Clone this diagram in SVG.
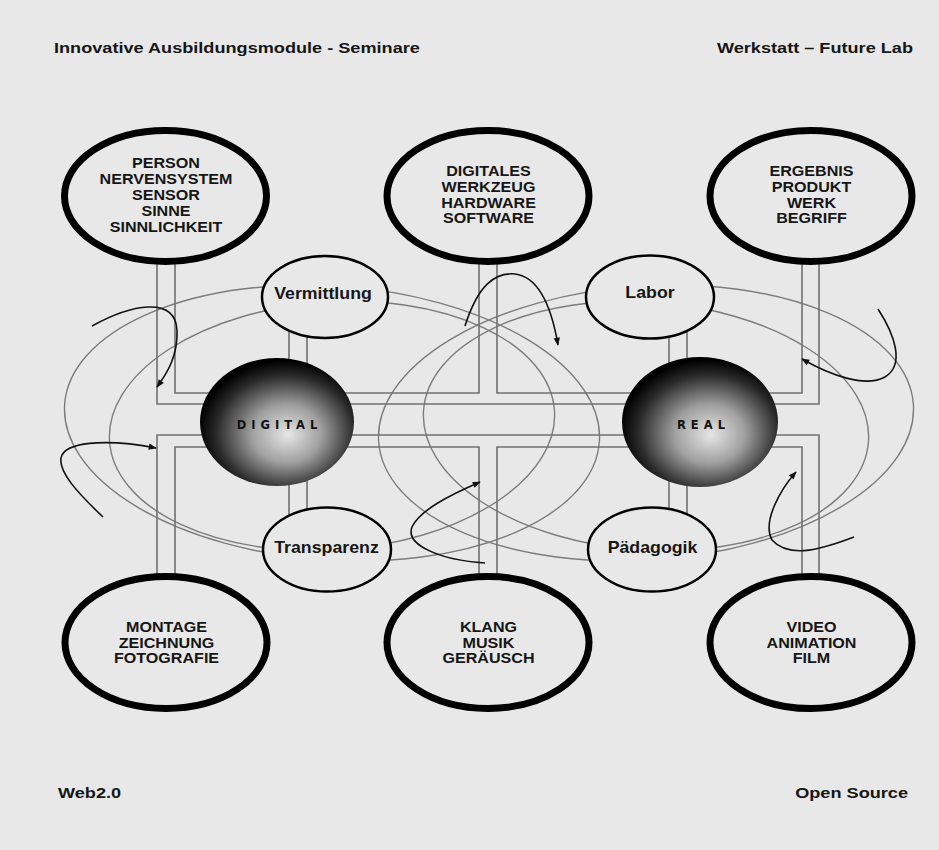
<svg xmlns="http://www.w3.org/2000/svg" width="939" height="850" viewBox="0 0 939 850">
<defs>
<style>
.bg{fill:#e8e8e8}
.big{fill:#e8e8e8;stroke:#000;stroke-width:7}
.small{fill:#e8e8e8;stroke:#000;stroke-width:2.5}
.pipe{fill:none;stroke:#707070;stroke-width:1.6}
.orbit{fill:none;stroke:#7c7c7c;stroke-width:1.4}
.arrow{fill:none;stroke:#111;stroke-width:1.6;marker-end:url(#ah)}
.t{font-family:"Liberation Sans",Arial,sans-serif;font-weight:bold;fill:#161616}
.bt{font-size:14px;text-anchor:middle}
.hd{font-size:15px}
.st{font-size:16px;text-anchor:middle}
.sp{font-family:"DejaVu Sans","Liberation Sans",sans-serif;font-weight:bold;font-size:11.5px;letter-spacing:5px;text-anchor:middle;fill:#111}
</style>
<radialGradient id="sph" cx="0.55" cy="0.58" r="0.56" fx="0.57" fy="0.6">
<stop offset="0" stop-color="#e6e6e6"/>
<stop offset="0.4" stop-color="#a0a0a0"/>
<stop offset="0.8" stop-color="#2a2a2a"/>
<stop offset="1" stop-color="#000"/>
</radialGradient>
<marker id="ah" viewBox="0 0 10 10" refX="9" refY="5" markerWidth="9" markerHeight="8" markerUnits="userSpaceOnUse" orient="auto">
<path d="M0,1 L10,5 L0,9 z" fill="#111"/>
</marker>
</defs>
<rect class="bg" x="0" y="0" width="939" height="850"/>

<g id="orbits">
<ellipse class="orbit" cx="332" cy="423" rx="268" ry="137" transform="rotate(4 332 423)"/>
<ellipse class="orbit" cx="332" cy="426" rx="223" ry="124" transform="rotate(-4 332 426)"/>
<ellipse class="orbit" cx="646" cy="423" rx="268" ry="137" transform="rotate(-4 646 423)"/>
<ellipse class="orbit" cx="646" cy="426" rx="223" ry="124" transform="rotate(4 646 426)"/>
</g>

<g id="connectors">
<path class="pipe" d="M157,255 V404 H819 V255"/>
<path class="pipe" d="M157,585 V435 H819 V585"/>
<path class="pipe" d="M175,255 V393 H479 V255"/>
<path class="pipe" d="M497,255 V393 H802 V255"/>
<path class="pipe" d="M175,585 V447 H479 V585"/>
<path class="pipe" d="M497,585 V447 H802 V585"/>
<path class="pipe" d="M289,330 V380 M307,330 V380"/>
<path class="pipe" d="M289,460 V515 M307,460 V515"/>
<path class="pipe" d="M669,330 V380 M687,330 V380"/>
<path class="pipe" d="M669,460 V515 M687,460 V515"/>
</g>

<g id="digital">
<ellipse cx="277" cy="422" rx="77" ry="64" fill="url(#sph)"/>
<text class="sp" x="279.5" y="429">DIGITAL</text>
</g>
<g id="real">
<ellipse cx="700" cy="422" rx="78" ry="65" fill="url(#sph)"/>
<text class="sp" x="703.5" y="429">REAL</text>
</g>

<g id="vermittlung">
<ellipse class="small" cx="325" cy="297" rx="63" ry="41"/>
<text class="t st" transform="translate(323,299) scale(1.11,1)">Vermittlung</text>
</g>
<g id="labor">
<ellipse class="small" cx="650" cy="297" rx="64" ry="41.5"/>
<text class="t st" transform="translate(650,298) scale(1.11,1)">Labor</text>
</g>
<g id="transparenz">
<ellipse class="small" cx="327" cy="549.5" rx="64" ry="42"/>
<text class="t st" transform="translate(326.5,553) scale(1.11,1)">Transparenz</text>
</g>
<g id="paedagogik">
<ellipse class="small" cx="652" cy="549.5" rx="64" ry="42"/>
<text class="t st" transform="translate(652.5,553) scale(1.11,1)">Pädagogik</text>
</g>

<g id="person">
<ellipse class="big" cx="165.5" cy="196" rx="101" ry="65.5"/>
<g transform="translate(166,0) scale(1.15,1)">
<text class="t bt" x="0" y="168">PERSON</text>
<text class="t bt" x="0" y="184">NERVENSYSTEM</text>
<text class="t bt" x="0" y="200">SENSOR</text>
<text class="t bt" x="0" y="216">SINNE</text>
<text class="t bt" x="0" y="232">SINNLICHKEIT</text>
</g>
</g>
<g id="werkzeug">
<ellipse class="big" cx="488" cy="196" rx="101" ry="65.5"/>
<g transform="translate(488.5,0) scale(1.15,1)">
<text class="t bt" x="0" y="176">DIGITALES</text>
<text class="t bt" x="0" y="192">WERKZEUG</text>
<text class="t bt" x="0" y="208">HARDWARE</text>
<text class="t bt" x="0" y="223">SOFTWARE</text>
</g>
</g>
<g id="ergebnis">
<ellipse class="big" cx="811" cy="196" rx="101" ry="65.5"/>
<g transform="translate(811.5,0) scale(1.15,1)">
<text class="t bt" x="0" y="176">ERGEBNIS</text>
<text class="t bt" x="0" y="192">PRODUKT</text>
<text class="t bt" x="0" y="208">WERK</text>
<text class="t bt" x="0" y="223">BEGRIFF</text>
</g>
</g>
<g id="montage">
<ellipse class="big" cx="166" cy="642.5" rx="101" ry="66"/>
<g transform="translate(166.5,0) scale(1.15,1)">
<text class="t bt" x="0" y="632">MONTAGE</text>
<text class="t bt" x="0" y="648">ZEICHNUNG</text>
<text class="t bt" x="0" y="663">FOTOGRAFIE</text>
</g>
</g>
<g id="klang">
<ellipse class="big" cx="488" cy="642.5" rx="101" ry="66"/>
<g transform="translate(488.5,0) scale(1.15,1)">
<text class="t bt" x="0" y="632">KLANG</text>
<text class="t bt" x="0" y="648">MUSIK</text>
<text class="t bt" x="0" y="663">GERÄUSCH</text>
</g>
</g>
<g id="video">
<ellipse class="big" cx="811" cy="642.5" rx="101" ry="66"/>
<g transform="translate(811.5,0) scale(1.15,1)">
<text class="t bt" x="0" y="632">VIDEO</text>
<text class="t bt" x="0" y="648">ANIMATION</text>
<text class="t bt" x="0" y="663">FILM</text>
</g>
</g>

<g id="arrows">
<path class="arrow" d="M92,326 C130,305 175,295 177,330 C178,355 168,372 157,387"/>
<path class="arrow" d="M103,517 C80,495 55,470 62,455 C70,440 115,440 156,448"/>
<path class="arrow" d="M465,326 C478,285 495,272 515,274 C540,277 552,310 558,345"/>
<path class="arrow" d="M485,563 C440,560 405,545 412,527 C420,510 450,495 480,482"/>
<path class="arrow" d="M878,309 C895,335 905,365 885,377 C865,388 830,375 802,359"/>
<path class="arrow" d="M854,537 C825,548 790,560 772,540 C762,522 780,490 796,472"/>
</g>

<g id="labels">
<text class="t hd" transform="translate(54,53) scale(1.21,1)">Innovative Ausbildungsmodule - Seminare</text>
<text class="t hd" transform="translate(913,53) scale(1.21,1)" text-anchor="end">Werkstatt – Future Lab</text>
<text class="t hd" transform="translate(58,798) scale(1.21,1)">Web2.0</text>
<text class="t hd" transform="translate(908,798) scale(1.21,1)" text-anchor="end">Open Source</text>
</g>
</svg>
